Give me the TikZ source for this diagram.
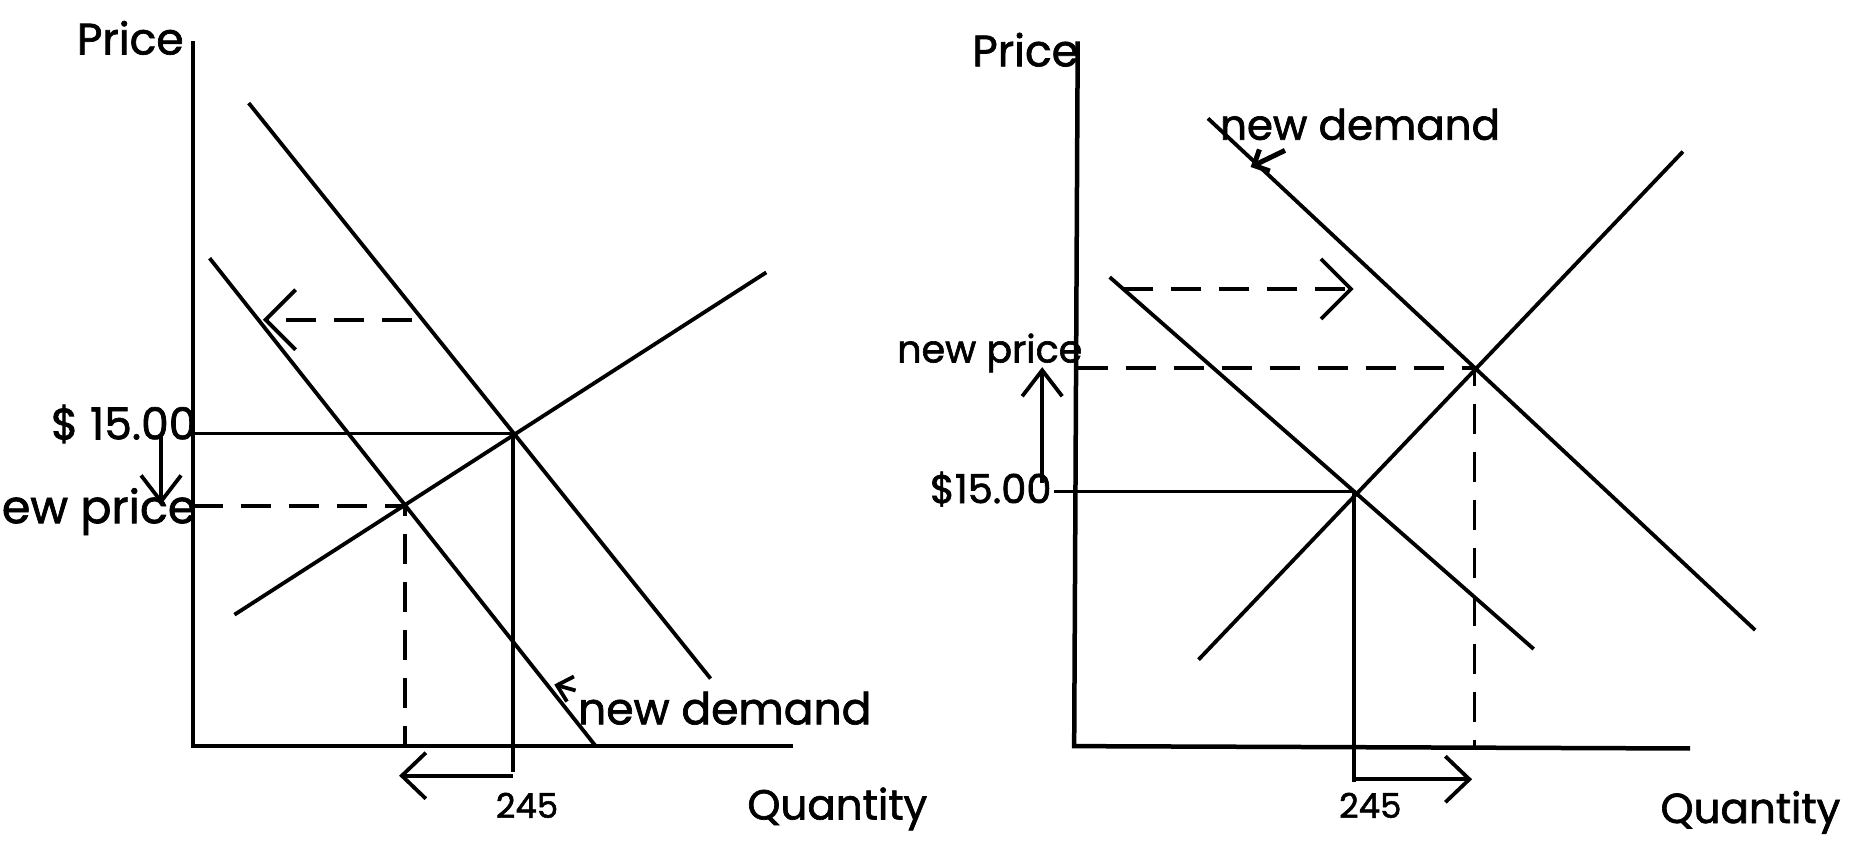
\documentclass[tikz,border=0pt]{standalone}
\usepackage{fontspec}
\setmainfont{Poppins}[FakeBold=1.6]
\usetikzlibrary{arrows.meta}
\begin{document}
\begin{tikzpicture}[x=1.1843pt,y=-1.1843pt,
  axis/.style={line width=4.5pt},
  curve/.style={line width=3.8pt},
  guide/.style={line width=3.8pt},
  dashguide/.style={line width=3.8pt, dash pattern=on 30pt off 18pt},
  barb/.style={-{Straight Barb[length=30pt,width=60pt,line width=3.8pt]}},
  qbarb/.style={-{Straight Barb[length=24pt,width=46pt,line width=3.8pt]}},
  sbarb/.style={-{Straight Barb[length=26pt,width=40pt,line width=3.8pt]}},
  lbl/.style={inner sep=0pt},
  fs/.style={font=\fontsize{#1}{#1}\selectfont},
]
\useasboundingbox (0,0) rectangle (1568,713);
% ---------------- left panel ----------------
\coordinate (LO) at (163,630);
\coordinate (LT) at (163,35);
\coordinate (LR) at (670,630);
\coordinate (LD1a) at (210,87);
\coordinate (LD1b) at (600,573);
\coordinate (LD2a) at (177,218);
\coordinate (LD2b) at (503,630);
\coordinate (LSa) at (198,519);
\coordinate (LSb) at (647,230);
\coordinate (LE1) at (433,366);
\coordinate (LE2) at (342,427);
\coordinate (LE1b) at (433,652);
\coordinate (LA1) at (348,270);
\coordinate (LA2) at (222,270);
\coordinate (LP1) at (136,368);
\coordinate (LP2) at (136,426);
\coordinate (LQ1) at (433,655);
\coordinate (LQ2) at (337,655);
\coordinate (LN1) at (486,583);
\coordinate (LN2) at (468,578);

\draw[axis] (LT) -- (LO) -- (LR);
\draw[curve] (LD1a) -- (LD1b);
\draw[curve] (LD2a) -- (LD2b);
\draw[curve] (LSa) -- (LSb);
\draw[guide] (LO |- LE1) -- (LE1) -- (LE1b);
\draw[dashguide] (LO |- LE2) -- (LE2) -- (LE2 |- LO);
\draw[dashguide, barb] (LA1) -- (LA2);
\draw[guide, sbarb] (LP1) -- (LP2);
\draw[guide, qbarb] (LQ1) -- (LQ2);
\draw[guide, -{Straight Barb[length=14pt,width=26pt,line width=3.8pt]}] (LN1) -- (LN2);

\node[lbl, fs=44] (lprice) at (110,32) {Price};
\node[lbl, fs=44, anchor=east] (l15) at (166,358) {\$ 15.00};
\node[lbl, fs=46, anchor=east] (lnp) at (166,432) {new price};
\node[lbl, fs=34] (l245) at (445,680) {245};
\node[lbl, fs=42] (lq) at (707,683) {Quantity};
\node[lbl, fs=44, anchor=west] (lnd) at (488,598) {new demand};

% ---------------- right panel ----------------
\coordinate (RO) at (907,630);
\coordinate (RT) at (910,35);
\coordinate (RR) at (1427,632);
\coordinate (RD1a) at (937,234);
\coordinate (RD1b) at (1295,548);
\coordinate (RD2a) at (1020,100);
\coordinate (RD2b) at (1482,532);
\coordinate (RSa) at (1012,557);
\coordinate (RSb) at (1421,128);
\coordinate (RE1) at (1143,415);
\coordinate (RE2) at (1245,311);
\coordinate (RE1b) at (1143,660);
\coordinate (R15) at (890,415);
\coordinate (RA1) at (948,244);
\coordinate (RA2) at (1143,244);
\coordinate (RP1) at (880,408);
\coordinate (RP2) at (880,310);
\coordinate (RQ1) at (1145,658);
\coordinate (RQ2) at (1243,658);
\coordinate (RN1) at (1085,127);
\coordinate (RN2) at (1056,141);

\draw[axis] (RT) -- (RO) -- (RR);
\draw[curve] (RD1a) -- (RD1b);
\draw[curve] (RD2a) -- (RD2b);
\draw[curve] (RSa) -- (RSb);
\draw[guide] (R15) -- (RE1) -- (RE1b);
\draw[dashguide] (RT |- RE2) -- (RE2) -- (RE2 |- RO);
\draw[dashguide, barb] (RA1) -- (RA2);
\draw[guide, sbarb] (RP1) -- (RP2);
\draw[guide, qbarb] (RQ1) -- (RQ2);
\draw[line width=5pt, -{Straight Barb[length=12pt,width=24pt,line width=5pt]}] (RN1) -- (RN2);

\node[lbl, fs=44] (rprice) at (866,42) {Price};
\node[lbl, fs=40, anchor=east] (r15) at (888,413) {\$15.00};
\node[lbl, fs=38, anchor=east] (rnp) at (914,298) {new price};
\node[lbl, fs=34] (r245) at (1157,680) {245};
\node[lbl, fs=42] (rq) at (1478,686) {Quantity};
\node[lbl, fs=42, anchor=west] (rnd) at (1030,105) {new demand};
\end{tikzpicture}
\end{document}
